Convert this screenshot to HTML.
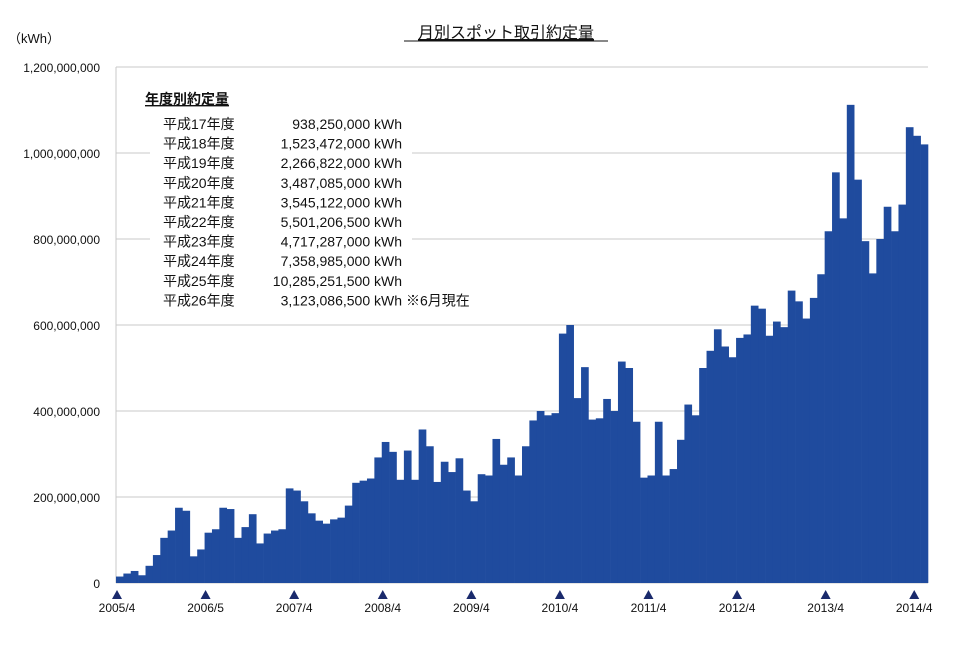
<!DOCTYPE html>
<html><head><meta charset="utf-8"><style>
body{margin:0;background:#fff;}
svg text{font-family:"Liberation Sans","Noto Sans CJK JP",sans-serif;fill:#111;}
</style></head><body>
<svg width="960" height="647" viewBox="0 0 960 647">
<text x="506" y="38" text-anchor="middle" font-size="16" text-decoration="underline">月別スポット取引約定量</text>
<line x1="404" y1="41" x2="608" y2="41" stroke="#111" stroke-width="1"/>
<text x="8" y="43" font-size="13">（kWh）</text>
<g id="grid"></g>
<g id="bars"></g>
<g id="xaxis"></g>
<g font-size="14">
<text x="145" y="104" font-weight="bold" text-decoration="underline">年度別約定量</text>
<g id="tbl"></g>
</g>
</svg>
<script>
const months=["2005/4","2006/5","2007/4","2008/4","2009/4","2010/4","2011/4","2012/4","2013/4","2014/4"];
const values=[15,22,28,18,40,65,105,122,175,168,62,78,117,125,175,172,105,130,160,92,115,122,125,
220,215,190,162,145,138,148,152,180,233,238,243,
292,328,305,240,308,240,357,318,235,282,258,290,
215,190,253,250,335,275,292,250,318,378,400,390,
395,580,600,430,502,380,383,428,400,515,500,375,
245,250,375,250,265,333,415,390,500,540,590,550,
525,570,578,645,638,575,608,595,680,655,615,663,
718,818,955,848,1112,938,795,720,800,875,818,880,
1060,1040,1020];
const tickIdx=[0,12,24,36,48,60,72,84,96,108];
const yTicks=[0,200,400,600,800,1000,1200];
const yTickLabels=["0","200,000,000","400,000,000","600,000,000","800,000,000","1,000,000,000","1,200,000,000"];
const years=["平成17年度","平成18年度","平成19年度","平成20年度","平成21年度","平成22年度","平成23年度","平成24年度","平成25年度","平成26年度"];
const yearVals=["938,250,000 kWh","1,523,472,000 kWh","2,266,822,000 kWh","3,487,085,000 kWh","3,545,122,000 kWh","5,501,206,500 kWh","4,717,287,000 kWh","7,358,985,000 kWh","10,285,251,500 kWh","3,123,086,500 kWh"];
const NS="http://www.w3.org/2000/svg";
const X0=116,X1=928,Y0=583,Y1=67;
const bw=(X1-X0)/values.length;
const x=i=>X0+i*bw;
const y=v=>Y0-(v/1200)*(Y0-Y1);
function mk(t,a,p){const e=document.createElementNS(NS,t);for(const k in a)e.setAttribute(k,a[k]);p.appendChild(e);return e;}
const grid=document.getElementById('grid');
yTicks.forEach((v,i)=>{
 const l=mk('line',{x1:X0,x2:X1,y1:y(v),y2:y(v),stroke:'#c8c8c8','stroke-width':1},grid);
 
 
 const t=mk('text',{x:100,y:y(v)+5,'text-anchor':'end','font-size':12},grid);
 t.textContent=yTickLabels[i];
 
 
});
const ax=mk('line',{x1:X0,x2:X0,y1:Y1,y2:Y0,stroke:'#c8c8c8','stroke-width':1},grid);


const bars=document.getElementById('bars');
values.forEach((v,i)=>{
 const r=mk('rect',{x:x(i),y:y(v),width:bw+0.3,height:Y0-y(v),fill:'#1f4b9e'},bars);
 
 
});
const xa=document.getElementById('xaxis');
tickIdx.forEach((k,i)=>{
 const cx=x(k)+1;
 const p=mk('polygon',{points:`${cx-5},599 ${cx+5},599 ${cx},590`,fill:'#1a2a6c'},xa);
 
 
 const t=mk('text',{x:cx,y:612,'text-anchor':'middle','font-size':12},xa);
 t.textContent=months[i];
 
 
});
const tbl=document.getElementById('tbl');
const bg=mk('rect',{x:150,y:110,width:262,height:196,fill:'#fff'},tbl);
years.forEach((yr,i)=>{
 const ty=129+i*19.6;
 const a=mk('text',{x:163,y:ty},tbl);a.textContent=yr;
 
 
 const b=mk('text',{x:402,y:ty,'text-anchor':'end'},tbl);b.textContent=yearVals[i];
 
 
});
const n=mk('text',{x:406,y:129+9*19.6},tbl);n.textContent="※6月現在";


</script>
</body></html>
